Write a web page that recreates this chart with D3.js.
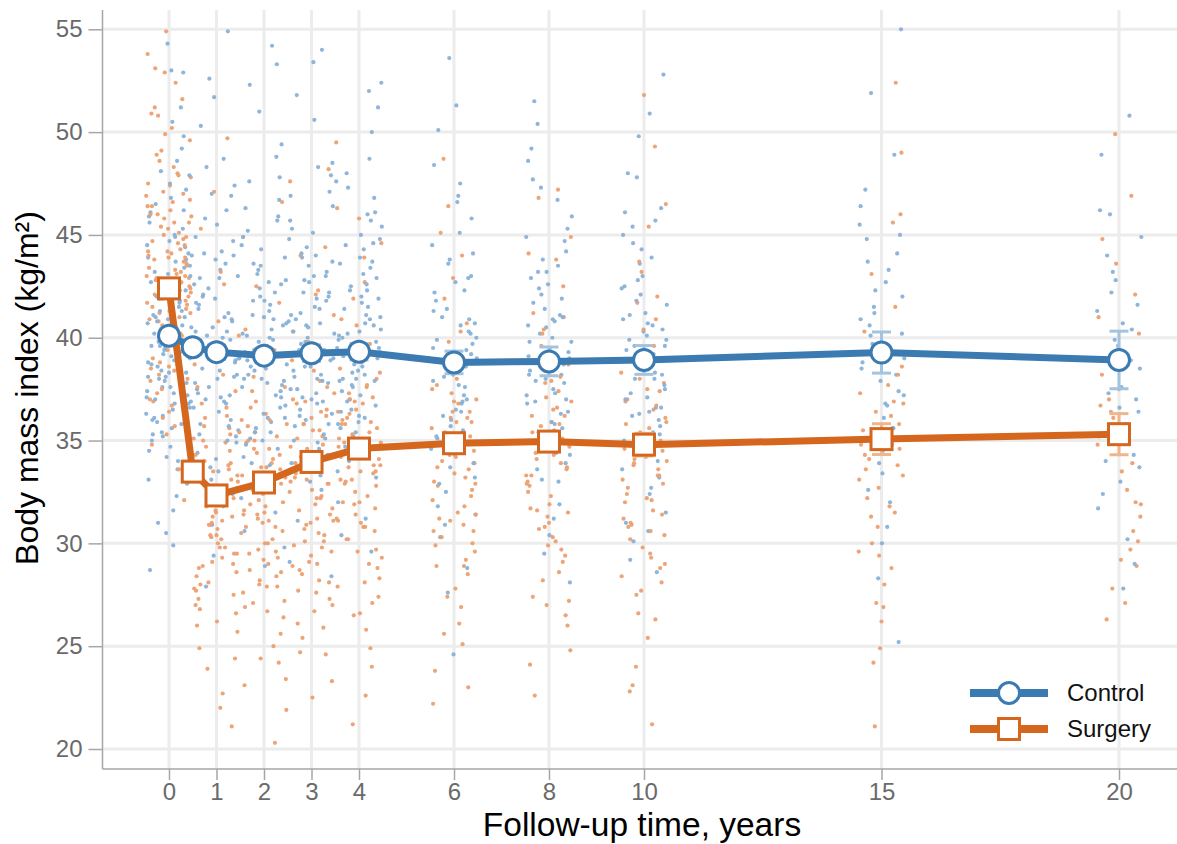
<!DOCTYPE html>
<html>
<head>
<meta charset="utf-8">
<script src="https://cdn.jsdelivr.net/npm/d3@7"></script>
<style>
  html, body { margin: 0; padding: 0; background: #ffffff; }
  svg { display: block; font-family: "Liberation Sans", Arial, sans-serif; }
</style>
</head>
<body>
<svg id="chart" width="1177" height="844"></svg>
<script>
// ---------- DATA ----------
const times = [0, 0.5, 1, 2, 3, 4, 6, 8, 10, 15, 20];
const controlMean = [40.1, 39.54, 39.3, 39.13, 39.25, 39.32, 38.8, 38.85, 38.92, 39.28, 38.92];
const controlErr  = [0.35, 0.35, 0.35, 0.35, 0.4, 0.4, 0.55, 0.7, 0.7, 1.0, 1.4];
const surgeryMean = [42.4, 33.49, 32.33, 32.96, 33.96, 34.61, 34.87, 34.95, 34.8, 35.07, 35.31];
const surgeryErr  = [0.3, 0.3, 0.3, 0.35, 0.4, 0.4, 0.4, 0.45, 0.55, 0.75, 1.0];

const xTickValues = [0, 1, 2, 3, 4, 6, 8, 10, 15, 20];
const yTickValues = [20, 25, 30, 35, 40, 45, 50, 55];
const seriesNames = ["Control", "Surgery"];
const xTitle = "Follow-up time, years";
const yTitle = "Body mass index (kg/m\u00B2)";

const dotTimes = [0, 1, 2, 3, 4, 6, 8, 10, 15, 20];
const controlDots = [
  [40.2, 36.8, 43.5, 38.1, 45.9, 41.3, 34.7, 39.6, 47.2, 37.4, 42.8, 35.9, 44.1, 40.9, 31.6, 38.7, 49.8, 36.2, 41.7, 43.9, 39.1, 33.8, 46.5, 37.9, 42.2, 40.5, 35.3, 51.2, 38.4, 44.7, 28.7, 41.0, 36.5, 39.8, 47.9, 34.2, 42.5, 37.1, 45.3, 40.1, 32.9, 43.2, 38.9, 54.3, 36.9, 41.9, 39.3, 46.1, 35.6, 44.4, 37.6, 40.7, 48.6, 33.4, 42.0, 38.3, 52.9, 36.0, 43.7, 39.5,
   37.8, 41.5, 35.0, 43.0, 39.2, 46.8, 33.1, 40.6, 38.0, 44.9, 36.3, 42.3, 30.5, 39.9, 48.1, 35.8, 41.1, 37.3, 45.6, 34.0, 40.3, 43.4, 38.6, 50.5, 36.6, 42.7, 32.3, 39.4, 44.0, 37.0, 41.8, 35.4, 47.5, 38.8, 43.8, 31.0, 40.0, 36.1, 45.0, 39.0, 42.0, 34.5, 49.2, 37.6, 41.3, 38.3, 44.5, 33.6, 40.8, 36.8, 43.1, 29.9, 39.6, 46.2, 35.2, 42.6, 38.1, 53.0, 37.2, 41.0],
  [39.5, 35.2, 43.8, 37.1, 41.6, 46.9, 33.7, 40.3, 44.9, 36.4, 38.8, 42.1, 30.9, 48.7, 39.0, 35.8, 41.2, 37.6, 45.5, 34.4, 40.8, 43.3, 27.9, 38.2, 51.7, 36.8, 42.6, 39.9, 33.1, 47.4, 38.5, 44.2, 41.9, 35.5, 40.1, 54.9, 37.3, 42.9, 32.4, 39.2,
   37.8, 41.0, 34.9, 44.1, 39.7, 36.0, 42.9, 31.8, 40.5, 38.1, 46.2, 35.3, 43.0, 39.3, 33.5, 41.7, 37.2, 48.3, 40.0, 36.6, 44.7, 29.4, 38.9, 42.4, 35.7, 50.3, 39.5, 37.5, 43.6, 34.1, 40.9, 45.8, 38.4, 32.7, 41.4, 36.9, 47.0, 39.0, 42.0, 35.0, 52.6, 38.0, 40.3, 44.0, 37.0],
  [38.6, 42.4, 35.9, 40.7, 45.2, 37.2, 33.4, 41.8, 39.3, 47.8, 36.1, 43.6, 29.8, 38.0, 40.9, 44.5, 34.6, 39.8, 37.7, 52.3, 41.3, 35.0, 42.8, 38.4, 31.5, 46.3, 39.6, 36.6, 43.1, 40.2, 54.2, 37.9, 33.9, 41.0, 45.9, 38.9, 35.4, 42.0, 49.4, 39.1,
   40.1, 36.7, 43.3, 38.5, 34.2, 45.7, 39.4, 41.6, 32.2, 37.4, 44.3, 40.6, 35.6, 48.8, 38.2, 42.7, 30.6, 39.9, 36.3, 46.7, 41.1, 37.8, 43.9, 34.8, 40.4, 51.0, 38.7, 35.1, 42.2, 39.1, 28.9, 44.9, 37.1, 41.8, 33.8, 47.6, 40.0, 36.1, 43.5, 38.0, 53.3, 39.6, 35.4, 42.6, 37.6],
  [39.7, 36.3, 42.7, 38.2, 44.8, 35.1, 40.6, 47.1, 37.5, 41.9, 33.0, 39.0, 43.9, 36.9, 40.3, 50.6, 34.3, 38.6, 45.7, 41.4, 28.4, 39.4, 37.0, 43.0, 35.7, 48.3, 40.0, 42.2, 32.6, 38.1, 46.4, 36.0, 53.4, 41.1, 39.2, 44.1, 34.9, 40.8, 37.8, 43.5,
   38.9, 42.2, 35.3, 40.9, 37.3, 45.3, 33.3, 39.6, 43.2, 36.5, 41.5, 48.5, 38.4, 34.6, 44.4, 40.2, 31.1, 37.9, 42.8, 39.1, 46.9, 35.8, 41.2, 38.0, 51.8, 36.8, 43.7, 40.5, 33.9, 39.4, 45.1, 37.1, 42.0, 29.1, 40.7, 36.2, 47.9, 38.6, 44.0, 35.0, 41.8, 39.8, 54.0, 37.5, 43.0],
  [40.4, 37.0, 43.4, 35.6, 41.7, 46.1, 38.3, 33.5, 42.3, 39.5, 48.0, 36.2, 44.6, 40.0, 31.2, 38.9, 42.9, 52.0, 37.4, 41.0, 35.2, 45.0, 39.9, 43.7, 34.0, 40.7, 47.6, 36.7, 38.0, 51.2, 42.5, 29.6, 39.1, 44.3, 37.9, 41.5, 35.9, 46.8, 40.2, 38.6,
   39.3, 36.4, 42.6, 38.7, 45.4, 34.7, 40.9, 37.7, 43.9, 32.0, 39.8, 47.3, 36.1, 41.4, 38.2, 44.8, 35.4, 40.1, 50.0, 37.2, 42.3, 33.2, 39.5, 46.0, 36.9, 41.9, 38.4, 43.1, 30.4, 40.6, 37.6, 48.7, 35.8, 42.0, 39.0, 44.5, 34.4, 41.1, 52.4, 38.0, 45.7, 36.5, 40.3, 43.6, 37.9],
  [38.4, 42.9, 35.1, 40.6, 33.7, 45.8, 37.2, 39.9, 31.4, 43.6, 36.5, 41.3, 28.8, 38.1, 47.5, 34.6, 40.2, 36.0, 44.1, 32.5, 39.4, 50.1, 37.7, 42.2, 35.5, 24.6, 40.9, 38.8, 46.6, 33.2, 41.8, 36.8, 53.6, 39.0, 30.3,
   37.6, 41.4, 34.3, 39.5, 43.0, 36.2, 45.1, 32.9, 38.9, 40.7, 35.7, 48.4, 37.0, 42.7, 30.9, 39.2, 44.5, 36.9, 41.0, 33.9, 38.2, 46.9, 35.2, 40.3, 27.6, 42.3, 37.9, 51.3, 39.7, 34.8, 43.8, 36.4, 40.0, 31.8, 38.6],
  [39.1, 35.6, 42.4, 37.3, 44.9, 33.9, 40.5, 36.4, 47.3, 38.2, 41.7, 31.2, 39.8, 43.5, 35.0, 37.8, 50.4, 40.0, 34.3, 42.9, 38.6, 29.5, 45.9, 36.9, 41.1, 33.1, 39.5, 48.6, 37.0, 43.2, 35.8, 51.5, 40.8, 28.1, 38.0,
   38.2, 41.9, 35.1, 40.2, 44.2, 36.8, 46.7, 33.6, 39.3, 42.6, 37.5, 49.2, 38.7, 43.8, 31.9, 40.6, 35.9, 45.3, 37.9, 41.4, 34.4, 39.8, 47.7, 36.3, 42.1, 30.4, 38.4, 44.7, 40.9, 35.4, 39.0, 43.2, 33.0, 37.2, 41.0],
  [38.7, 42.5, 35.4, 40.3, 33.2, 45.4, 37.1, 39.6, 31.0, 43.9, 36.3, 41.6, 29.2, 38.3, 47.8, 34.8, 40.9, 36.6, 44.6, 32.4, 39.9, 50.9, 37.5, 42.1, 35.0, 28.6, 41.2, 38.0, 46.3, 33.6, 40.6, 36.2, 52.8, 39.2, 30.6,
   39.4, 36.0, 42.8, 38.0, 45.0, 34.6, 40.4, 37.3, 43.6, 32.7, 39.9, 48.0, 36.6, 41.8, 38.5, 46.1, 35.3, 40.7, 30.1, 37.7, 44.3, 39.2, 42.4, 34.0, 49.8, 38.2, 41.1, 36.4, 43.0, 31.5, 39.6, 45.7, 37.0, 40.1, 35.7],
  [39.0, 43.7, 35.6, 41.2, 33.4, 46.4, 37.4, 40.1, 30.8, 44.8, 36.7, 42.0, 28.3, 38.5, 48.9, 34.5, 39.7, 25.2, 45.5, 32.0, 40.6, 55.0, 37.9, 42.7, 35.1,
   38.2, 42.3, 34.8, 40.9, 36.1, 45.0, 32.6, 39.4, 43.3, 37.2, 47.2, 35.6, 41.5, 30.0, 38.8, 44.1, 36.8, 51.9, 40.2, 33.9],
  [38.5, 42.8, 35.2, 40.4, 33.0, 46.0, 37.0, 41.3, 30.2, 44.0, 36.4, 39.6, 27.8, 48.9, 34.3, 43.2, 50.8, 31.7,
   37.6, 41.6, 34.0, 39.9, 35.8, 44.9, 32.4, 38.9, 42.2, 36.6, 46.2, 29.0, 40.7, 37.3, 33.7]
];
const surgeryDots = [
  [42.1, 45.6, 39.4, 47.8, 41.2, 44.3, 37.9, 50.2, 43.0, 40.6, 46.4, 38.7, 42.9, 48.9, 36.4, 44.8, 41.5, 52.4, 39.9, 43.6, 45.1, 34.8, 42.4, 47.1, 40.3, 44.0, 51.6, 38.2, 43.3, 46.9, 41.8, 54.9, 39.1, 45.4, 42.7, 36.9, 48.3, 40.9, 44.6, 43.9, 32.1, 46.0, 41.1, 49.6, 38.5, 43.1, 45.8, 40.0, 53.1, 42.3, 37.5, 47.4, 44.2, 41.4, 50.8, 39.6, 43.8, 35.7, 46.7, 42.6,
   43.4, 40.1, 46.2, 38.8, 44.9, 41.7, 48.0, 37.3, 42.0, 45.3, 39.7, 50.9, 43.7, 36.1, 41.0, 47.5, 44.1, 38.0, 42.8, 52.9, 40.5, 45.9, 39.0, 43.2, 49.1, 41.3, 37.0, 44.5, 46.6, 40.8, 42.5, 35.3, 47.9, 43.0, 39.4, 45.0, 41.6, 51.2, 38.4, 44.2, 42.2, 48.6, 40.2, 46.0, 36.7, 43.9, 41.9, 53.8, 39.8, 45.6, 42.9, 38.6, 47.0, 44.7, 40.4, 49.9, 43.5, 33.6, 46.4, 41.2],
  [32.1, 28.6, 35.7, 30.4, 33.9, 26.8, 38.2, 31.3, 29.5, 36.6, 24.9, 33.0, 30.9, 40.8, 27.7, 34.5, 31.8, 22.7, 35.1, 29.0, 32.7, 37.4, 28.1, 33.6, 45.3, 30.2, 26.0, 34.9, 31.5, 21.1, 36.1, 29.8, 33.3, 27.3, 42.6, 31.0, 35.4, 28.9, 49.7, 32.4,
   30.7, 34.3, 27.5, 32.9, 29.3, 36.8, 31.1, 25.7, 33.5, 28.4, 35.6, 30.0, 23.9, 32.2, 38.7, 29.8, 34.0, 26.6, 31.6, 43.2, 28.8, 33.1, 30.4, 36.2, 27.0, 31.9, 24.4, 35.0, 29.1, 32.6, 40.1, 28.0, 33.8, 30.9, 26.2, 37.6, 31.3, 22.0, 34.7, 29.5, 47.1, 32.0, 27.8, 35.3, 30.3],
  [33.2, 29.7, 36.3, 31.4, 27.9, 34.6, 38.8, 30.5, 25.6, 33.7, 32.0, 36.9, 28.4, 35.0, 31.1, 23.1, 34.1, 29.2, 41.7, 32.6, 26.7, 37.6, 30.8, 33.9, 28.0, 35.8, 31.9, 20.3, 34.4, 30.0, 44.9, 32.9, 27.1, 36.0, 29.5, 39.5, 33.4, 24.4, 31.6, 35.2,
   31.8, 35.4, 28.6, 33.3, 30.2, 37.4, 26.4, 32.4, 29.0, 34.9, 24.2, 31.2, 39.4, 27.6, 33.7, 30.6, 36.6, 28.2, 32.8, 21.9, 35.7, 29.6, 42.5, 31.5, 26.9, 34.3, 30.0, 38.1, 27.2, 33.0, 25.0, 36.0, 29.3, 32.1, 46.6, 28.7, 34.6, 31.0, 23.4, 35.0, 30.8, 40.4, 27.9, 33.6, 31.4],
  [35.8, 30.1, 33.4, 27.6, 38.9, 32.2, 29.4, 36.5, 24.7, 34.0, 31.7, 40.3, 28.2, 33.1, 37.3, 26.1, 35.2, 30.7, 22.5, 34.7, 32.9, 44.0, 29.0, 36.8, 31.2, 27.0, 39.8, 33.6, 30.4, 35.5, 25.4, 48.2, 32.5, 37.9, 28.7, 34.3, 31.0, 42.1, 29.9, 36.2,
   36.9, 29.8, 33.0, 38.4, 31.4, 27.7, 34.6, 30.5, 41.1, 33.9, 25.9, 35.8, 32.6, 28.9, 37.6, 31.9, 34.2, 23.3, 29.1, 36.4, 33.5, 44.4, 30.9, 27.3, 35.1, 32.2, 39.3, 31.1, 28.5, 34.8, 37.0, 26.7, 32.9, 30.1, 47.6, 35.5, 29.6, 31.6, 36.1, 24.6, 33.2, 42.3, 34.0, 28.1, 32.3],
  [34.2, 37.6, 31.9, 29.3, 35.8, 39.7, 33.1, 26.6, 36.4, 32.8, 30.2, 42.7, 34.9, 28.1, 38.3, 31.4, 35.1, 24.0, 33.5, 37.0, 29.7, 46.3, 32.3, 36.1, 27.4, 34.6, 30.8, 40.9, 33.8, 21.2, 35.4, 31.1, 38.8, 28.8, 33.0, 36.9, 25.8, 44.6, 32.0, 35.9,
   35.1, 32.0, 38.5, 30.6, 36.8, 33.7, 28.3, 40.6, 34.4, 31.2, 37.1, 26.5, 35.6, 32.9, 43.9, 29.6, 34.9, 36.3, 24.9, 33.1, 39.0, 31.7, 35.3, 27.9, 37.7, 34.1, 30.2, 45.8, 33.4, 36.0, 22.6, 32.5, 38.0, 29.0, 35.8, 33.8, 41.9, 31.0, 34.7, 27.1, 37.3, 30.8, 49.5, 33.5, 36.5],
  [34.7, 31.2, 38.3, 29.6, 36.1, 33.0, 40.7, 27.8, 35.4, 32.3, 37.5, 25.1, 34.0, 30.6, 42.9, 36.8, 28.9, 33.6, 39.2, 31.8, 22.2, 35.9, 30.0, 45.1, 34.3, 26.9, 37.0, 32.8, 29.2, 38.9, 33.4, 23.8, 36.4, 31.5, 48.7,
   33.9, 37.3, 30.9, 35.6, 28.5, 39.8, 32.6, 34.9, 26.1, 36.4, 31.4, 41.9, 33.2, 29.9, 38.0, 35.2, 27.4, 32.1, 44.0, 34.5, 30.3, 36.9, 23.0, 33.7, 40.3, 31.1, 35.9, 28.9, 37.7, 32.9, 46.4, 34.2, 30.6, 36.1, 25.6],
  [35.2, 31.6, 38.7, 29.9, 36.5, 33.3, 41.0, 28.2, 35.8, 32.5, 37.9, 26.0, 34.4, 30.8, 43.8, 36.9, 27.4, 33.9, 39.6, 31.9, 24.1, 36.2, 30.3, 46.8, 34.7, 27.0, 37.4, 32.9, 29.1, 40.4, 33.7, 22.6, 35.5, 31.3, 44.9,
   34.6, 38.1, 31.7, 35.9, 29.4, 40.2, 33.0, 36.6, 27.2, 34.1, 31.0, 42.5, 35.4, 30.1, 37.8, 33.6, 28.6, 36.2, 24.8, 34.9, 32.3, 44.1, 35.1, 30.7, 39.0, 33.3, 26.5, 37.1, 31.5, 35.7, 29.7, 41.2, 34.3, 32.8, 47.2],
  [34.5, 31.0, 38.0, 29.3, 35.9, 32.7, 40.9, 27.5, 35.1, 32.0, 37.4, 25.4, 33.8, 30.4, 43.2, 36.5, 28.4, 33.3, 39.0, 31.4, 22.8, 35.6, 29.8, 46.5, 34.1, 26.3, 36.9, 32.2, 28.8, 41.7, 33.1, 21.2, 37.8, 30.9, 51.8,
   33.6, 37.0, 30.6, 35.4, 28.1, 39.6, 32.4, 36.1, 26.6, 34.2, 31.2, 42.0, 33.9, 29.5, 38.3, 35.0, 27.7, 32.9, 24.0, 36.7, 30.8, 45.4, 34.6, 31.6, 40.4, 33.3, 23.1, 37.5, 29.0, 35.8, 32.1, 43.7, 34.0, 30.2, 49.3],
  [35.0, 31.3, 38.6, 29.4, 36.2, 33.1, 41.5, 27.1, 34.6, 32.2, 39.4, 24.9, 36.8, 30.0, 45.6, 35.5, 28.0, 33.8, 21.1, 37.3, 31.8, 49.0, 34.1, 26.2, 52.4,
   34.3, 37.7, 30.8, 35.8, 28.8, 40.3, 33.3, 36.4, 26.9, 34.8, 31.5, 43.1, 35.2, 29.6, 38.2, 32.7, 46.0, 24.2, 36.9, 33.6],
  [35.6, 31.9, 38.9, 29.7, 36.7, 33.5, 42.1, 27.8, 34.8, 32.6, 40.2, 26.3, 37.5, 30.6, 44.8, 35.0, 49.9, 28.9,
   34.9, 38.2, 31.3, 36.1, 29.2, 41.0, 33.9, 37.0, 27.1, 35.3, 32.0, 43.6, 30.1, 36.4, 46.9]
];
const jitter = [-0.31, 0.12, 0.44, -0.07, -0.42, 0.27, 0.03, -0.19, 0.36, -0.46, 0.18, -0.25, 0.41, -0.02, 0.09, -0.37, 0.31, -0.13, 0.22, -0.44, 0.05, 0.39, -0.28, -0.09, 0.15, 0.47, -0.34, 0.25, -0.16, 0.01, -0.40, 0.33, 0.08, -0.22, 0.43, -0.05, 0.20, -0.47, 0.29, -0.11, 0.38, -0.30, 0.11, -0.03, 0.46, -0.20, 0.24, -0.39, 0.06, 0.34, -0.14, -0.45, 0.17, 0.42, -0.26, 0.00, 0.30, -0.35, 0.14, -0.08, 0.37,
  0.21, -0.36, 0.45, -0.12, 0.04, -0.43, 0.28, -0.21, 0.13, -0.48, 0.35, -0.06, 0.40, -0.17, 0.26, -0.33, 0.10, -0.41, 0.19, -0.01, 0.32, -0.24, 0.07, 0.44, -0.38, 0.16, -0.10, 0.48, -0.29, 0.23, -0.15, 0.02, -0.44, 0.36, -0.23, 0.12];

// ---------- STYLE ----------
const colControl = "#3b7bb2";
const colSurgery = "#d4661e";
const colControlErr = "#a3c3df";
const colSurgeryErr = "#efb68c";
const colControlDot = "#88b1d8";
const colSurgeryDot = "#eca071";

const svg = d3.select("#chart");
const W = 1177, H = 844;
const plotLeft = 102.5, plotRight = 1177, plotTop = 10, plotBottom = 769;

const x = d3.scaleLinear().domain([0, 20]).range([169, 1119]);
const y = d3.scaleLinear().domain([20, 55]).range([749, 29.3]);

svg.append("rect").attr("width", W).attr("height", H).attr("fill", "#ffffff");

// grid
const grid = svg.append("g");
grid.selectAll("line.h").data(yTickValues).enter().append("line")
  .attr("x1", plotLeft).attr("x2", plotRight)
  .attr("y1", d => y(d)).attr("y2", d => y(d))
  .attr("stroke", "#ececec").attr("stroke-width", 3);
grid.selectAll("line.v").data(xTickValues).enter().append("line")
  .attr("y1", plotTop).attr("y2", plotBottom)
  .attr("x1", d => x(d)).attr("x2", d => x(d))
  .attr("stroke", "#ececec").attr("stroke-width", 3);

// scatter
const dots = [];
dotTimes.forEach((t, k) => {
  const c = controlDots[k], s = surgeryDots[k];
  const n = Math.max(c.length, s.length);
  for (let i = 0; i < n; i++) {
    if (i < c.length) dots.push({ t: t + jitter[(i + k * 11) % jitter.length], v: c[i], col: colControlDot });
    if (i < s.length) dots.push({ t: t + jitter[(i + 41 + k * 11) % jitter.length], v: s[i], col: colSurgeryDot });
  }
});
svg.append("g").selectAll("circle").data(dots).enter().append("circle")
  .attr("cx", d => x(d.t)).attr("cy", d => y(d.v)).attr("r", 2.1)
  .attr("fill", d => d.col).attr("opacity", 0.95);

// axes
const axisColor = "#a6a6a6";
const yAxis = svg.append("g").attr("transform", `translate(${plotLeft},0)`)
  .call(d3.axisLeft(y).tickValues(yTickValues).tickSize(14).tickPadding(6).tickFormat(d3.format("d")));
yAxis.select(".domain").remove();
yAxis.selectAll(".tick line").attr("stroke", axisColor).attr("stroke-width", 1.5);
yAxis.selectAll(".tick text").attr("fill", "#6a6a6a").style("font-size", "24px")
  .style("font-family", "'Liberation Sans', Arial, sans-serif");

const xAxis = svg.append("g").attr("transform", `translate(0,${plotBottom})`)
  .call(d3.axisBottom(x).tickValues(xTickValues).tickSize(11).tickPadding(3).tickFormat(d3.format("d")));
xAxis.select(".domain").remove();
xAxis.selectAll(".tick line").attr("stroke", axisColor).attr("stroke-width", 1.5);
xAxis.selectAll(".tick text").attr("fill", "#6a6a6a").style("font-size", "24px")
  .style("font-family", "'Liberation Sans', Arial, sans-serif");

svg.append("line").attr("x1", plotLeft).attr("x2", plotLeft).attr("y1", plotTop).attr("y2", plotBottom)
  .attr("stroke", axisColor).attr("stroke-width", 1.5);
svg.append("line").attr("x1", plotLeft).attr("x2", plotRight).attr("y1", plotBottom).attr("y2", plotBottom)
  .attr("stroke", axisColor).attr("stroke-width", 1.5);

// error bars
function errorBars(means, errs, color) {
  const g = svg.append("g").attr("stroke", color).attr("stroke-width", 3).attr("fill", "none");
  times.forEach((t, i) => {
    const cx = x(t), y1 = y(means[i] + errs[i]), y2 = y(means[i] - errs[i]);
    g.append("line").attr("x1", cx).attr("x2", cx).attr("y1", y1).attr("y2", y2);
    g.append("line").attr("x1", cx - 9.5).attr("x2", cx + 9.5).attr("y1", y1).attr("y2", y1);
    g.append("line").attr("x1", cx - 9.5).attr("x2", cx + 9.5).attr("y1", y2).attr("y2", y2);
  });
}
errorBars(controlMean, controlErr, colControlErr);
errorBars(surgeryMean, surgeryErr, colSurgeryErr);

// lines
const line = d3.line().x(d => x(d[0])).y(d => y(d[1]));
svg.append("path").datum(times.map((t, i) => [t, controlMean[i]]))
  .attr("d", line).attr("fill", "none").attr("stroke", colControl).attr("stroke-width", 7);
svg.append("path").datum(times.map((t, i) => [t, surgeryMean[i]]))
  .attr("d", line).attr("fill", "none").attr("stroke", colSurgery).attr("stroke-width", 7);

// markers
svg.append("g").selectAll("circle").data(times.map((t, i) => [t, controlMean[i]])).enter()
  .append("circle").attr("cx", d => x(d[0])).attr("cy", d => y(d[1])).attr("r", 10.5)
  .attr("fill", "#ffffff").attr("stroke", colControl).attr("stroke-width", 3);
svg.append("g").selectAll("rect").data(times.map((t, i) => [t, surgeryMean[i]])).enter()
  .append("rect").attr("x", d => x(d[0]) - 10.5).attr("y", d => y(d[1]) - 10.5)
  .attr("width", 21).attr("height", 21)
  .attr("fill", "#ffffff").attr("stroke", colSurgery).attr("stroke-width", 3);

// legend
const leg = svg.append("g");
const legRows = [{ name: seriesNames[0], col: colControl, shape: "circle", yy: 693 },
                 { name: seriesNames[1], col: colSurgery, shape: "square", yy: 729 }];
legRows.forEach(r => {
  leg.append("line").attr("x1", 970).attr("x2", 1048).attr("y1", r.yy).attr("y2", r.yy)
    .attr("stroke", r.col).attr("stroke-width", 8);
  if (r.shape === "circle") {
    leg.append("circle").attr("cx", 1009).attr("cy", r.yy).attr("r", 10.5)
      .attr("fill", "#fff").attr("stroke", r.col).attr("stroke-width", 3);
  } else {
    leg.append("rect").attr("x", 998.5).attr("y", r.yy - 10.5).attr("width", 21).attr("height", 21)
      .attr("fill", "#fff").attr("stroke", r.col).attr("stroke-width", 3);
  }
  leg.append("text").attr("x", 1067).attr("y", r.yy).attr("dy", "0.35em")
    .attr("fill", "#111").style("font-size", "24px").text(r.name);
});

// titles
svg.append("text").attr("x", 642).attr("y", 836).attr("text-anchor", "middle")
  .attr("fill", "#000").style("font-size", "33.5px").text(xTitle);
svg.append("text").attr("transform", "translate(38,388) rotate(-90)").attr("text-anchor", "middle")
  .attr("fill", "#000").style("font-size", "32px").text(yTitle);
</script>
</body>
</html>
